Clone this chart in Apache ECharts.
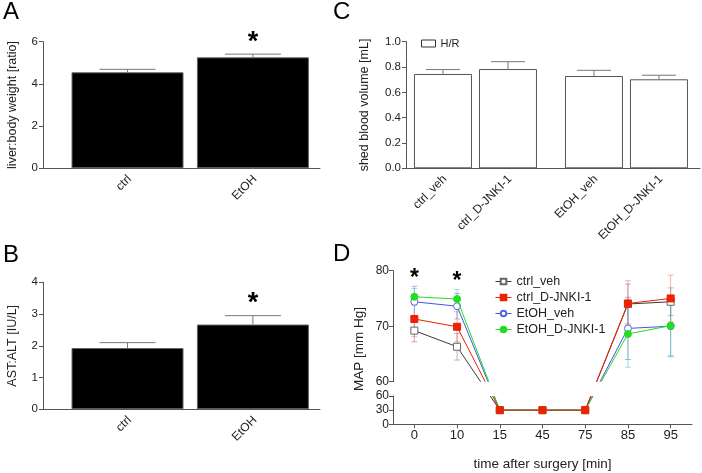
<!DOCTYPE html>
<html><head><meta charset="utf-8">
<script src="https://cdn.jsdelivr.net/npm/echarts@6/dist/echarts.min.js"></script>
<style>html,body{margin:0;padding:0;background:#fff}#c{width:702px;height:473px}</style>
</head><body><div id="c"></div>
<script>
// ---------- data ----------
// Panel A
const catsA = ['ctrl', 'EtOH'];
const liverRatio = [4.55, 5.26];
const liverRatioErr = [0.14, 0.15];
const sigA = [false, true];
// Panel B
const catsB = ['ctrl', 'EtOH'];
const astAlt = [1.93, 2.67];
const astAltErr = [0.17, 0.28];
const sigB = [false, true];
// Panel C (groups: ctrl, EtOH; sub-bars: veh, D-JNKI-1)
const groupsC = ['ctrl', 'EtOH'];
const barNamesC = ['ctrl_veh', 'ctrl_D-JNKI-1', 'EtOH_veh', 'EtOH_D-JNKI-1'];
const shedVeh = [0.745, 0.729];
const shedVehErr = [0.035, 0.045];
const shedJnk = [0.784, 0.703];
const shedJnkErr = [0.058, 0.032];
// Panel D
const timeCats = ['0', '10', '15', '45', '75', '85', '95'];
const namesD = ['ctrl_veh', 'ctrl_D-JNKI-1', 'EtOH_veh', 'EtOH_D-JNKI-1'];
const mapCtrlVeh = [69.2, 66.3, 30, 30, 30, 74.0, 74.4];
const mapCtrlJnk = [71.3, 69.9, 30, 30, 30, 74.1, 75.0];
const mapEtohVeh = [74.4, 73.6, 30, 30, 30, 69.6, 70.0];
const mapEtohJnk = [75.3, 74.9, 30, 30, 30, 68.6, 70.1];
const errCtrlVeh = [2.0, 2.4, 0, 0, 0, 3.6, 2.5];
const errCtrlJnk = [3.2, 2.7, 0, 0, 0, 4.1, 4.2];
const errEtohVeh = [2.8, 2.3, 0, 0, 0, 5.6, 5.5];
const errEtohJnk = [1.5, 1.7, 0, 0, 0, 6.0, 5.4];
const sigD = [true, true, false, false, false, false, false];
const breakD = 60; // value where the MAP axis is broken

// ---------- styles ----------
const FONT = '"Liberation Sans", Arial, Helvetica, sans-serif';
const AX = '#555';
const TXT = '#222';
const valsD = [mapCtrlVeh, mapCtrlJnk, mapEtohVeh, mapEtohJnk];
const errsD = [errCtrlVeh, errCtrlJnk, errEtohVeh, errEtohJnk];
const styleD = [
  {line: '#3a3a3a', fill: '#fff', border: '#666', err: 'rgba(160,110,120,0.55)', symbol: 'rect', size: 7, z: 3},
  {line: '#ee2200', fill: '#ee2200', border: '#ee2200', err: 'rgba(240,90,80,0.45)', symbol: 'rect', size: 7, z: 6},
  {line: '#4455dd', fill: '#fff', border: '#5566dd', err: 'rgba(90,110,220,0.5)', symbol: 'circle', size: 7, z: 4},
  {line: '#22dd22', fill: '#22dd22', border: '#22dd22', err: 'rgba(60,200,160,0.5)', symbol: 'circle', size: 7, z: 5}
];

function yAxisCfg(gi, min, max, interval, name, gap, extra) {
  return Object.assign({
    gridIndex: gi, type: 'value', min: min, max: max, interval: interval,
    axisLine: {show: true, onZero: false, lineStyle: {color: AX, width: 1}},
    axisTick: {show: true, length: 4, lineStyle: {color: AX}},
    axisLabel: {fontSize: 11.5, color: TXT, margin: 5, fontFamily: FONT},
    splitLine: {show: false},
    name: name, nameLocation: 'middle', nameGap: gap,
    nameTextStyle: {fontSize: 12.5, color: TXT, fontFamily: FONT}
  }, extra || {});
}
function xValAxis(gi, min, max) {
  return {gridIndex: gi, type: 'value', min: min, max: max,
    axisLine: {show: true, onZero: false, lineStyle: {color: AX, width: 1}},
    axisTick: {show: false}, axisLabel: {show: false}, splitLine: {show: false}};
}
// error bars (upper whisker only) + significance star for bar panels
function barErrSeries(xi, vals, errs, sig, dx, cap, starGap) {
  return {
    type: 'custom', xAxisIndex: xi, yAxisIndex: xi, clip: false, z: 5, silent: true,
    data: vals.map((v, i) => [i, v, errs[i], sig && sig[i] ? 1 : 0]),
    renderItem: function (params, api) {
      const b = api.coord([api.value(0), api.value(1)]);
      const t = api.coord([api.value(0), api.value(1) + api.value(2)]);
      const x = b[0] + dx;
      const ch = [
        {type: 'line', shape: {x1: x, y1: b[1], x2: x, y2: t[1]}, style: {stroke: '#777', lineWidth: 1}},
        {type: 'line', shape: {x1: x - cap, y1: t[1], x2: x + cap, y2: t[1]}, style: {stroke: '#777', lineWidth: 1}}
      ];
      if (api.value(3)) {
        ch.push({type: 'text', x: x, y: t[1] - starGap,
          style: {text: '*', fontSize: 27, fontWeight: 'bold', fontFamily: FONT, fill: '#000', align: 'center', verticalAlign: 'middle'}});
      }
      return {type: 'group', children: ch};
    }
  };
}
// rotated category labels under the bars
function catLabelSeries(xi, positions, names, dxs) {
  return {
    type: 'custom', xAxisIndex: xi, yAxisIndex: xi, clip: false, z: 5, silent: true,
    data: positions.map(p => [p, 0]),
    renderItem: function (params, api) {
      const p = api.coord([api.value(0), 0]);
      return {type: 'text', x: p[0] + dxs[params.dataIndex] + 2, y: p[1] + 9, rotation: Math.PI / 4,
        style: {text: names[params.dataIndex], fontSize: 12, fontFamily: FONT, fill: TXT, align: 'right', verticalAlign: 'middle'}};
    }
  };
}

const BW_C = 58, GAP_C = 7;
const offC = (BW_C + GAP_C) / 2;

const series = [];
// Panel A
series.push({type: 'bar', name: 'A', xAxisIndex: 0, yAxisIndex: 0, barWidth: 112,
  data: catsA.map((c, i) => [i, liverRatio[i]]),
  itemStyle: {color: '#000', borderColor: '#666', borderWidth: 1}});
series.push(barErrSeries(0, liverRatio, liverRatioErr, sigA, 0, 28, 12));
series.push(catLabelSeries(0, [0, 1], catsA, [0, 0]));
// Panel B
series.push({type: 'bar', name: 'B', xAxisIndex: 1, yAxisIndex: 1, barWidth: 112,
  data: catsB.map((c, i) => [i, astAlt[i]]),
  itemStyle: {color: '#000', borderColor: '#666', borderWidth: 1}});
series.push(barErrSeries(1, astAlt, astAltErr, sigB, 0, 28, 12));
series.push(catLabelSeries(1, [0, 1], catsB, [0, 0]));
// Panel C
series.push({type: 'bar', name: 'H/R', xAxisIndex: 2, yAxisIndex: 2, barWidth: BW_C, barGap: (GAP_C / BW_C * 100) + '%',
  data: groupsC.map((g, i) => [i, shedVeh[i]]),
  itemStyle: {color: '#fff', borderColor: '#555', borderWidth: 1}});
series.push({type: 'bar', name: 'H/R', xAxisIndex: 2, yAxisIndex: 2, barWidth: BW_C, barGap: (GAP_C / BW_C * 100) + '%',
  data: groupsC.map((g, i) => [i, shedJnk[i]]),
  itemStyle: {color: '#fff', borderColor: '#555', borderWidth: 1}});
series.push(barErrSeries(2, shedVeh, shedVehErr, null, -offC, 17, 0));
series.push(barErrSeries(2, shedJnk, shedJnkErr, null, offC, 17, 0));
series.push(catLabelSeries(2, [0, 0, 1, 1], barNamesC, [-offC, offC, -offC, offC]));

// Panel D: upper segment (>= break) and lower segment (<= break)
namesD.forEach((n, k) => {
  const st = styleD[k];
  const up = valsD[k].map(v => v >= breakD ? v : '-');
  const lo = valsD[k].map(v => v <= breakD ? v : '-');
  [[3, up], [4, lo]].forEach(([gi, d]) => {
    series.push({type: 'line', name: n, xAxisIndex: gi, yAxisIndex: gi, clip: true, z: st.z,
      data: d, symbol: st.symbol, symbolSize: st.size, showAllSymbol: true, connectNulls: false,
      itemStyle: {color: st.fill, borderColor: st.border, borderWidth: 1},
      lineStyle: {color: st.line, width: 1}});
  });
  // error bars (upper segment)
  series.push({type: 'custom', xAxisIndex: 3, yAxisIndex: 3, clip: true, z: 2, silent: true,
    data: valsD[k].map((v, i) => [i, v, errsD[k][i]]).filter(d => d[1] >= breakD),
    renderItem: function (params, api) {
      const a = api.coord([api.value(0), api.value(1) - api.value(2)]);
      const b = api.coord([api.value(0), api.value(1) + api.value(2)]);
      const s = {stroke: st.err, lineWidth: 1};
      return {type: 'group', children: [
        {type: 'line', shape: {x1: a[0], y1: a[1], x2: b[0], y2: b[1]}, style: s},
        {type: 'line', shape: {x1: a[0] - 3, y1: a[1], x2: a[0] + 3, y2: a[1]}, style: s},
        {type: 'line', shape: {x1: b[0] - 3, y1: b[1], x2: b[0] + 3, y2: b[1]}, style: s}
      ]};
    }});
});
// significance stars in D
const topD = timeCats.map((t, i) => Math.max.apply(null, valsD.map((v, k) => v[i] + errsD[k][i])));
series.push({type: 'custom', xAxisIndex: 3, yAxisIndex: 3, clip: false, z: 8, silent: true,
  data: timeCats.map((t, i) => [i, topD[i], sigD[i] ? 1 : 0]).filter(d => d[2]),
  renderItem: function (params, api) {
    const p = api.coord([api.value(0), api.value(1)]);
    return {type: 'text', x: p[0], y: p[1] - 8,
      style: {text: '*', fontSize: 23, fontWeight: 'bold', fontFamily: FONT, fill: '#000', align: 'center', verticalAlign: 'middle'}};
  }});

const baseGraphic = [
  {type: 'text', left: 3, top: 0, style: {text: 'A', fontSize: 24, fill: '#000', fontFamily: FONT}},
  {type: 'text', left: 3, top: 243, style: {text: 'B', fontSize: 24, fill: '#000', fontFamily: FONT}},
  {type: 'text', left: 333, top: 0, style: {text: 'C', fontSize: 24, fill: '#000', fontFamily: FONT}},
  {type: 'text', left: 333, top: 242, style: {text: 'D', fontSize: 24, fill: '#000', fontFamily: FONT}},
  {type: 'text', x: 359, y: 349, rotation: Math.PI / 2,
    style: {text: 'MAP [mm Hg]', fontSize: 13.5, fill: TXT, fontFamily: FONT, align: 'center', verticalAlign: 'middle'}}
];

const option = {
  animation: false,
  backgroundColor: '#fff',
  textStyle: {fontFamily: FONT},
  grid: [
    {left: 43, top: 41.7, width: 277, height: 126.6},
    {left: 43, top: 282.3, width: 277, height: 127},
    {left: 406, top: 41.7, width: 294, height: 126.6},
    {left: 393, top: 270.7, width: 299, height: 111},
    {left: 393, top: 396, width: 299, height: 28.3}
  ],
  xAxis: [
    xValAxis(0, -0.674, 1.535),
    xValAxis(1, -0.674, 1.535),
    xValAxis(2, -0.46, 1.487),
    {gridIndex: 3, type: 'category', data: timeCats, show: false},
    {gridIndex: 4, type: 'category', data: timeCats, boundaryGap: true,
      axisLine: {show: true, lineStyle: {color: AX}},
      axisTick: {show: true, alignWithLabel: true, length: 4, lineStyle: {color: AX}},
      axisLabel: {fontSize: 13, color: TXT, margin: 5, fontFamily: FONT},
      name: 'time after surgery [min]', nameLocation: 'middle', nameGap: 33,
      nameTextStyle: {fontSize: 13.5, color: TXT, fontFamily: FONT}}
  ],
  yAxis: [
    yAxisCfg(0, 0, 6, 2, 'liver:body weight [ratio]', 24),
    yAxisCfg(1, 0, 4, 1, 'AST:ALT [IU/L]', 24),
    yAxisCfg(2, 0, 1, 0.2, 'shed blood volume [mL]', 35, {axisLabel: {fontSize: 11.5, color: TXT, margin: 5, fontFamily: FONT, formatter: v => v.toFixed(1)}}),
    yAxisCfg(3, 60, 80, 10, '', 0, {axisLabel: {fontSize: 12, color: TXT, margin: 4, fontFamily: FONT}}),
    yAxisCfg(4, 0, 60, 30, '', 0, {axisLabel: {fontSize: 12, color: TXT, margin: 4, fontFamily: FONT}})
  ],
  legend: [
    {data: ['H/R'], left: 416, top: 33, icon: 'rect', itemWidth: 14, itemHeight: 7,
      itemStyle: {color: '#fff', borderColor: '#333', borderWidth: 1},
      textStyle: {fontSize: 11, color: TXT, fontFamily: FONT}, selectedMode: false},
    {data: namesD, orient: 'vertical', left: 490, top: 269, itemWidth: 16, itemHeight: 7, itemGap: 1,
      lineStyle: {width: 1},
      textStyle: {fontSize: 12.5, color: TXT, fontFamily: FONT, lineHeight: 15}, selectedMode: false}
  ],
  graphic: baseGraphic,
  series: series
};
const chart = echarts.init(document.getElementById('c'));
chart.setOption(option);

// connecting segments across the axis break, drawn in screen space through both scales
const connectors = [];
const upFinder = {xAxisIndex: 3, yAxisIndex: 3};
const loFinder = {xAxisIndex: 4, yAxisIndex: 4};
const yUpBottom = chart.convertToPixel(upFinder, [0, breakD])[1];
const yLoTop = chart.convertToPixel(loFinder, [0, breakD])[1];
valsD.forEach((vals, k) => {
  for (let i = 0; i < vals.length - 1; i++) {
    const aUp = vals[i] >= breakD, bUp = vals[i + 1] >= breakD;
    if (aUp === bUp) continue;
    const p1 = chart.convertToPixel(aUp ? upFinder : loFinder, [i, vals[i]]);
    const p2 = chart.convertToPixel(bUp ? upFinder : loFinder, [i + 1, vals[i + 1]]);
    const xAt = y => p1[0] + (y - p1[1]) / (p2[1] - p1[1]) * (p2[0] - p1[0]);
    const pu = aUp ? p1 : p2, pl = aUp ? p2 : p1;
    const st = {stroke: styleD[k].line, lineWidth: 1};
    connectors.push({type: 'line', z: styleD[k].z, shape: {x1: pu[0], y1: pu[1], x2: xAt(yUpBottom), y2: yUpBottom}, style: st});
    connectors.push({type: 'line', z: styleD[k].z, shape: {x1: xAt(yLoTop), y1: yLoTop, x2: pl[0], y2: pl[1]}, style: st});
  }
});
chart.setOption({graphic: baseGraphic.concat(connectors)});
</script>
</body></html>
